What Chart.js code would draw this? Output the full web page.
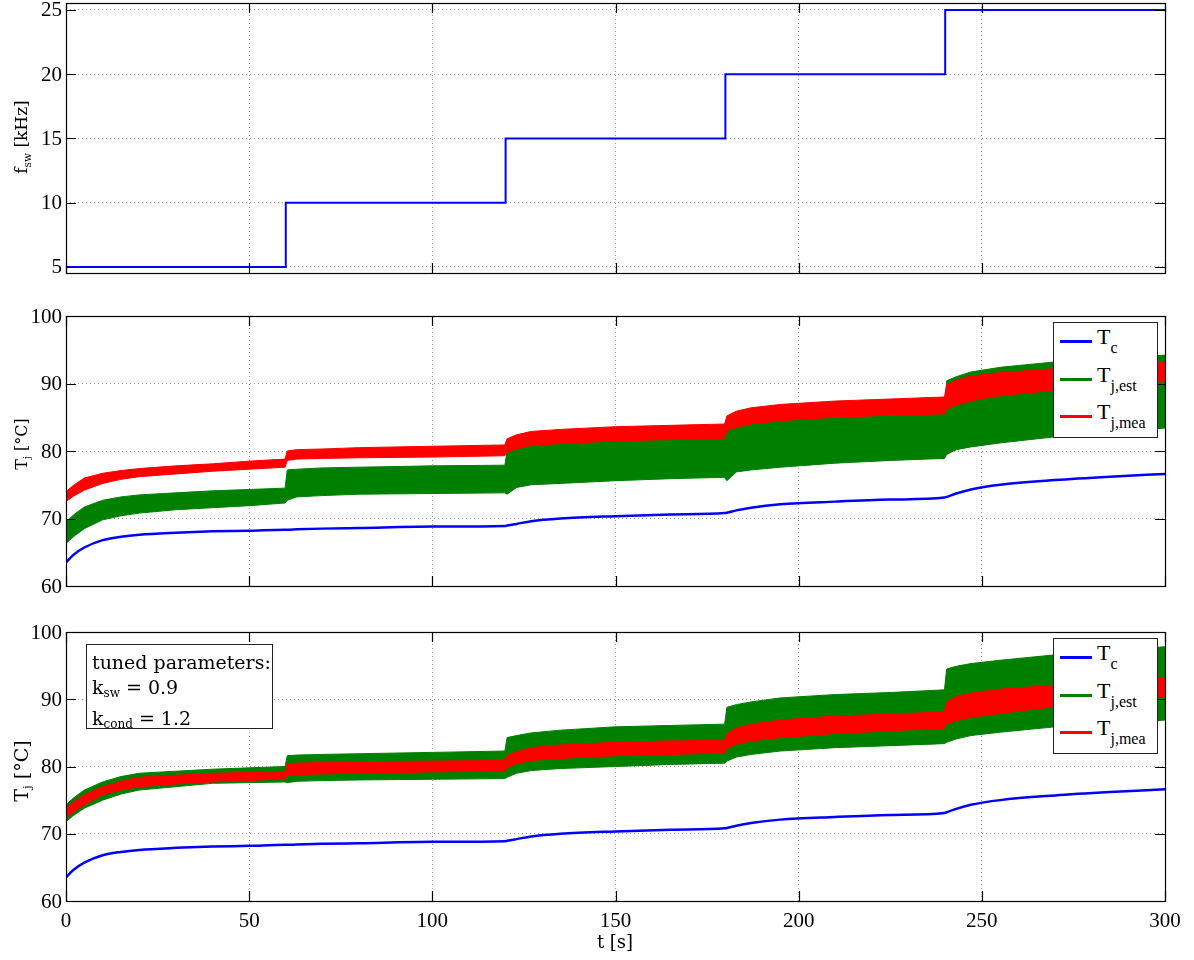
<!doctype html>
<html lang="en">
<head>
  <meta charset="utf-8">
  <title>f_sw and junction temperature</title>
  <style>
    * { margin: 0; padding: 0; }
    body { background: #fff; width: 1194px; height: 960px; position: relative; overflow: hidden; }
    canvas { position: absolute; left: 0; }
    .ylab {
      position: absolute; left: 22px; white-space: nowrap; color: #000;
      font-family: 'DejaVu Serif', serif;
      transform: translate(-50%, -50%) rotate(-90deg);
    }
    .ylab sub { font-size: 0.62em; vertical-align: -0.3em; }
    .xlab {
      position: absolute; left: 615px; top: 941px; transform: translate(-50%, -50%);
      font-family: 'DejaVu Serif', serif; font-size: 18px; color: #000; white-space: nowrap;
    }
    .legend {
      position: absolute; left: 1053px; width: 105px; height: 116px;
      background: #fff; border: 1px solid #222; box-sizing: border-box;
      font-family: 'Liberation Serif', serif; color: #000;
    }
    .legend .swatch { position: absolute; left: 6px; width: 32px; height: 3px; }
    .legend .txt { position: absolute; left: 43px; font-size: 22px; line-height: 22px; white-space: nowrap; }
    .legend sub { font-size: 16px; vertical-align: -9px; }
    .note {
      position: absolute; left: 86px; top: 644px; width: 187px; height: 85px;
      background: #fff; border: 1px solid #222; box-sizing: border-box;
      padding: 5px 0 0 5px; font-family: 'DejaVu Serif', serif; font-size: 19px;
      line-height: 25px; color: #000; white-space: nowrap;
    }
    .note sub { font-size: 12px; vertical-align: -3px; }
  </style>
</head>
<body>
  <canvas id="fswChart" width="1194" height="290" style="top:0px"></canvas>
  <canvas id="tempChart1" width="1194" height="300" style="top:296px"></canvas>
  <canvas id="tempChart2" width="1194" height="348" style="top:612px"></canvas>

  <div class="ylab" style="top:137px;font-size:17px">f<sub>sw</sub> [kHz]</div>
  <div class="ylab" style="top:444px;font-size:16px">T<sub>j</sub> [°C]</div>
  <div class="ylab" style="top:771px;font-size:19px">T<sub>j</sub> [°C]</div>
  <div class="xlab">t [s]</div>

  <div class="legend" style="top:322px">
    <span class="swatch" style="top:17px;background:#0000ff"></span>
    <span class="txt" style="top:3px">T<sub>c</sub></span>
    <span class="swatch" style="top:55px;background:#008000"></span>
    <span class="txt" style="top:41px">T<sub>j,est</sub></span>
    <span class="swatch" style="top:92px;background:#ff0000"></span>
    <span class="txt" style="top:78px">T<sub>j,mea</sub></span>
  </div>
  <div class="legend" style="top:638px">
    <span class="swatch" style="top:17px;background:#0000ff"></span>
    <span class="txt" style="top:3px">T<sub>c</sub></span>
    <span class="swatch" style="top:55px;background:#008000"></span>
    <span class="txt" style="top:41px">T<sub>j,est</sub></span>
    <span class="swatch" style="top:92px;background:#ff0000"></span>
    <span class="txt" style="top:78px">T<sub>j,mea</sub></span>
  </div>
  <div class="note">tuned parameters:<br>k<sub>sw</sub> = 0.9<br>k<sub>cond</sub> = 1.2</div>

  <script src="https://cdn.jsdelivr.net/npm/chart.js"></script>
  <script>
    // tick labels
    const tTicks = [0, 50, 100, 150, 200, 250, 300];
    const fswTicks = [5, 10, 15, 20, 25];
    const tempTicks = [60, 70, 80, 90, 100];

    // switching frequency steps [kHz]
    const fswTime = [0, 60, 120, 180, 240, 300];
    const fswKHz = [5, 10, 15, 20, 25, 25];

    // time base for temperatures [s]
    const tTime = [0, 2, 5, 10, 15, 20, 30, 40, 50, 59.8, 60.4, 63, 70, 80, 100, 119.8,
      120.4, 123, 127, 135, 150, 165, 179.8, 180.4, 183, 187, 195, 210, 225, 239.8,
      240.4, 243, 247, 255, 270, 285, 300];

    // case temperature T_c
    const tcTemp = [63.5, 64.6, 65.7, 66.8, 67.3, 67.6, 67.9, 68.1, 68.2, 68.35, 68.35, 68.4, 68.5, 68.6, 68.8, 68.9,
      68.95, 69.2, 69.6, 70.0, 70.35, 70.6, 70.8, 70.85, 71.2, 71.6, 72.1, 72.5, 72.8, 73.1,
      73.2, 73.7, 74.3, 75.0, 75.7, 76.2, 76.6];

    // middle plot: measured (red) and estimated (green) envelopes
    const midMeaHi = [74.0, 74.9, 76.0, 76.7, 77.1, 77.4, 77.8, 78.1, 78.5, 78.8, 80.0, 80.2, 80.3, 80.5, 80.7, 80.9,
      81.8, 82.4, 82.9, 83.2, 83.6, 83.8, 84.0, 85.2, 85.9, 86.4, 86.9, 87.4, 87.7, 88.0,
      89.8, 90.5, 91.1, 91.6, 92.2, 92.7, 93.1];
    const midMeaLo = [72.5, 73.3, 74.2, 75.2, 75.8, 76.2, 76.6, 77.0, 77.3, 77.6, 78.6, 78.8, 78.9, 79.0, 79.1, 79.3,
      79.8, 80.3, 80.8, 81.1, 81.5, 81.7, 81.9, 83.0, 83.5, 84.0, 84.5, 85.0, 85.3, 85.5,
      86.2, 86.8, 87.4, 88.2, 89.0, 89.7, 90.3];
    const midEstHi = [69.5, 70.5, 71.7, 72.7, 73.2, 73.5, 73.8, 74.1, 74.3, 74.5, 77.2, 77.3, 77.5, 77.6, 77.8, 77.9,
      80.0, 80.5, 81.0, 81.3, 81.7, 81.9, 82.1, 83.4, 83.8, 84.2, 84.6, 85.0, 85.3, 85.6,
      90.4, 91.0, 91.7, 92.4, 93.2, 93.8, 94.2];
    const midEstLo = [66.3, 67.3, 68.5, 69.8, 70.4, 70.8, 71.3, 71.6, 71.9, 72.3, 72.7, 73.2, 73.4, 73.6, 73.7, 73.8,
      73.6, 74.6, 75.0, 75.2, 75.6, 75.9, 76.1, 75.6, 76.9, 77.2, 77.6, 78.2, 78.6, 78.9,
      79.5, 80.2, 80.6, 81.2, 82.1, 82.8, 83.4];

    // bottom plot (tuned parameters)
    const botMeaHi = [73.8, 74.7, 75.8, 77.0, 77.8, 78.4, 78.7, 79.0, 79.1, 79.2, 80.4, 80.5, 80.6, 80.7, 80.8, 80.9,
      81.6, 82.2, 82.8, 83.2, 83.6, 83.8, 83.9, 84.9, 85.7, 86.3, 86.9, 87.5, 87.8, 88.1,
      89.6, 90.4, 90.9, 91.5, 92.1, 92.7, 93.1];
    const botMeaLo = [72.3, 73.2, 74.3, 75.8, 76.5, 77.0, 77.4, 77.7, 77.9, 78.2, 78.6, 78.8, 78.9, 79.0, 79.2, 79.3,
      79.8, 80.4, 80.9, 81.2, 81.6, 81.8, 82.0, 82.7, 83.3, 83.8, 84.3, 84.9, 85.3, 85.7,
      86.3, 86.8, 87.3, 87.9, 88.9, 89.7, 90.4];
    const botEstHi = [74.3, 75.3, 76.5, 77.7, 78.5, 79.0, 79.3, 79.6, 79.8, 80.0, 81.6, 81.7, 81.8, 81.9, 82.1, 82.3,
      84.3, 84.6, 85.0, 85.4, 85.9, 86.1, 86.3, 88.8, 89.2, 89.6, 90.2, 90.7, 91.0, 91.4,
      94.5, 94.9, 95.3, 95.8, 96.6, 97.3, 97.8];
    const botEstLo = [71.8, 72.7, 73.8, 75.0, 75.9, 76.5, 77.0, 77.5, 77.6, 77.7, 77.6, 77.8, 77.9, 78.0, 78.1, 78.2,
      78.4, 79.0, 79.4, 79.7, 80.0, 80.3, 80.5, 80.8, 81.4, 81.8, 82.3, 82.8, 83.1, 83.4,
      83.6, 84.1, 84.6, 85.1, 85.9, 86.4, 86.9];

    const BLUE = '#0000ff', GREEN = '#008000', RED = '#ff0000';
    const gridColor = 'rgba(0,0,0,0.38)';
    const TICK_FONT = '21px "Liberation Serif", serif';

    const pts = (ys) => tTime.map((x, i) => ({ x: x, y: ys[i] }));

    function band(lo, hi, color, order) {
      return [
        { data: pts(lo), borderColor: color, backgroundColor: color, borderWidth: 1, pointRadius: 0, fill: false, order: order },
        { data: pts(hi), borderColor: color, backgroundColor: color, borderWidth: 1, pointRadius: 0, fill: '-1', order: order }
      ];
    }

    // box round the plot, inward tick marks and tick labels, matlab style
    const frame = {
      id: 'frame',
      afterDatasetsDraw(chart, args, opts) {
        const { ctx, chartArea: a, scales } = chart;
        const L = 10;
        ctx.save();
        ctx.strokeStyle = '#000';
        ctx.lineWidth = 1.2;
        ctx.beginPath();
        scales.x.ticks.forEach(t => {
          const px = Math.round(scales.x.getPixelForValue(t.value)) + 0.5;
          ctx.moveTo(px, a.bottom); ctx.lineTo(px, a.bottom - L);
          ctx.moveTo(px, a.top); ctx.lineTo(px, a.top + L);
        });
        scales.y.ticks.forEach(t => {
          const py = Math.round(scales.y.getPixelForValue(t.value)) + 0.5;
          ctx.moveTo(a.left, py); ctx.lineTo(a.left + L, py);
          ctx.moveTo(a.right, py); ctx.lineTo(a.right - L, py);
        });
        ctx.stroke();
        ctx.strokeRect(Math.round(a.left) + 0.5, Math.round(a.top) + 0.5, Math.round(a.width), Math.round(a.height));

        ctx.fillStyle = '#000';
        ctx.font = TICK_FONT;
        ctx.textAlign = 'right';
        ctx.textBaseline = 'middle';
        scales.y.ticks.forEach(t => {
          ctx.fillText(String(t.value), a.left - 4, scales.y.getPixelForValue(t.value) + 1);
        });
        if (opts.xLabels) {
          ctx.textAlign = 'center';
          ctx.textBaseline = 'top';
          scales.x.ticks.forEach(t => {
            ctx.fillText(String(t.value), scales.x.getPixelForValue(t.value), a.bottom + 10);
          });
        }
        ctx.restore();
      }
    };

    function makeOptions(yMin, yMax, yTicks, padTop, xHeight, showX) {
      return {
        responsive: false,
        animation: false,
        events: [],
        layout: { padding: { left: 0, right: 29, top: padTop, bottom: 0 } },
        plugins: { legend: { display: false }, tooltip: { enabled: false }, frame: { xLabels: showX } },
        scales: {
          x: {
            type: 'linear', min: 0, max: 300,
            afterBuildTicks: s => { s.ticks = tTicks.map(v => ({ value: v })); },
            afterFit: s => { s.height = xHeight; s.paddingLeft = 0; s.paddingRight = 0; },
            grid: { color: gridColor, drawTicks: false, lineWidth: 1 },
            border: { display: false, dash: [1, 3] },
            ticks: { display: false }
          },
          y: {
            min: yMin, max: yMax,
            afterBuildTicks: s => { s.ticks = yTicks.map(v => ({ value: v })); },
            afterFit: s => { s.width = 66; s.paddingTop = 0; s.paddingBottom = 0; },
            grid: { color: gridColor, drawTicks: false, lineWidth: 1 },
            border: { display: false, dash: [1, 3] },
            ticks: { display: false }
          }
        }
      };
    }

    // blue case temperature line, smoothed (monotone, so no overshoot)
    const tcLine = () => ({
      data: pts(tcTemp), borderColor: BLUE, borderWidth: 2.5, pointRadius: 0, fill: false,
      cubicInterpolationMode: 'monotone', order: 0
    });

    // top: switching frequency
    new Chart(document.getElementById('fswChart'), {
      type: 'line',
      data: {
        datasets: [{
          data: fswTime.map((x, i) => ({ x: x, y: fswKHz[i] })),
          borderColor: BLUE, borderWidth: 2, pointRadius: 0, stepped: true, fill: false
        }]
      },
      options: makeOptions(4.53, 25.54, fswTicks, 3, 17, false),
      plugins: [frame]
    });

    // middle: original parameters
    new Chart(document.getElementById('tempChart1'), {
      type: 'line',
      data: {
        datasets: [
          tcLine(),
          ...band(midEstLo, midEstHi, GREEN, 2),
          ...band(midMeaLo, midMeaHi, RED, 1)
        ]
      },
      options: makeOptions(60, 100, tempTicks, 20, 10, false),
      plugins: [frame]
    });

    // bottom: tuned parameters
    new Chart(document.getElementById('tempChart2'), {
      type: 'line',
      data: {
        datasets: [
          tcLine(),
          ...band(botEstLo, botEstHi, GREEN, 2),
          ...band(botMeaLo, botMeaHi, RED, 1)
        ]
      },
      options: makeOptions(60, 100, tempTicks, 20, 59, true),
      plugins: [frame]
    });
  </script>
</body>
</html>
